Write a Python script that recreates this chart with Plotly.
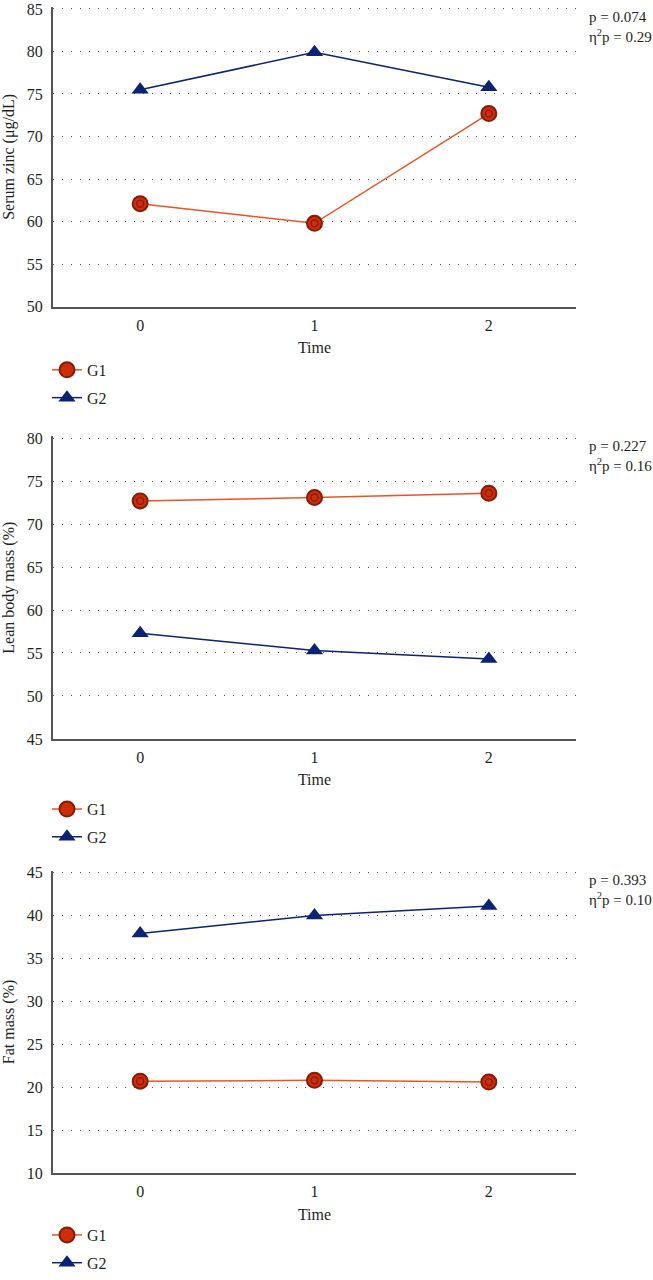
import plotly.graph_objects as go

time_labels = ["0", "1", "2"]
time_pos = [0, 1, 2]

zinc_g1 = [62.1, 59.8, 72.7]
zinc_g2 = [75.5, 79.9, 75.8]
lean_g1 = [72.7, 73.1, 73.6]
lean_g2 = [57.3, 55.3, 54.3]
fat_g1 = [20.7, 20.8, 20.6]
fat_g2 = [37.9, 40.0, 41.1]

panel_titles = ["Serum zinc (μg/dL)", "Lean body mass (%)", "Fat mass (%)"]
panel_ranges = [[50, 85], [45, 80], [10, 45]]
p_texts = ["p = 0.074", "p = 0.227", "p = 0.393"]
eta_texts = ["η<sup>2</sup>p = 0.29", "η<sup>2</sup>p = 0.16", "η<sup>2</sup>p = 0.10"]

W, H = 653, 1280
FONT = "Liberation Serif"
TXT = "#231F20"
G1_LINE = "#EA5424"
G1_FILL = "#CC2E0A"
G1_EDGE = "#861A05"
G2_COL = "#0C2272"
AXIS_COL = "#555555"

# pixel layout of each panel: (top gridline, bottom axis)
panel_px = [(9, 309.3), (442, 745.3), (880, 1183.3)]
x_px = (53, 576)
legend_px = [356, 799, 1229]
PAD = 0.2  # small headroom so the top gridline is drawn

def py(p):
    return 1 - p / H

fig = go.Figure()
data = [(zinc_g1, zinc_g2), (lean_g1, lean_g2), (fat_g1, fat_g2)]
for i, (g1, g2) in enumerate(data):
    sfx = "" if i == 0 else str(i + 1)
    leg = "legend" + sfx
    fig.add_trace(go.Scatter(
        x=time_pos, y=g1, name="G1", mode="lines+markers",
        line=dict(color=G1_LINE, width=1.5),
        marker=dict(symbol="circle", size=15, color=G1_FILL, line=dict(color=G1_EDGE, width=2)),
        xaxis="x" + sfx, yaxis="y" + sfx, legend=leg, legendgroup="g1" + sfx,
    ))
    fig.add_trace(go.Scatter(
        x=time_pos, y=g1, mode="markers", showlegend=False, hoverinfo="skip",
        marker=dict(symbol="circle-open", size=7, color=G1_EDGE, line=dict(width=1.3)),
        xaxis="x" + sfx, yaxis="y" + sfx,
    ))
    fig.add_trace(go.Scatter(
        x=time_pos, y=g2, name="G2", mode="lines+markers",
        line=dict(color=G2_COL, width=1.5),
        marker=dict(symbol="triangle-up", size=15, color=G2_COL),
        xaxis="x" + sfx, yaxis="y" + sfx, legend=leg, legendgroup="g2" + sfx,
    ))

layout = dict(
    width=W, height=H,
    margin=dict(l=0, r=0, t=0, b=0),
    paper_bgcolor="white", plot_bgcolor="white",
    font=dict(family=FONT, size=16, color=TXT),
    annotations=[],
    showlegend=True,
)
for i in range(3):
    sfx = "" if i == 0 else str(i + 1)
    top, bot = panel_px[i]
    lo, hi = panel_ranges[i]
    pxu = (bot - top) / (hi - lo)
    top_ext = top - PAD * pxu
    layout["xaxis" + sfx] = dict(
        domain=[x_px[0] / W, x_px[1] / W], anchor="y" + sfx,
        range=[-0.5, 2.5], tickvals=time_pos, ticktext=time_labels,
        showgrid=False, zeroline=False, showline=True, linecolor=AXIS_COL, linewidth=2,
        ticks="", automargin=False, ticklabelstandoff=3,
        title=dict(text="Time", font=dict(family=FONT, size=16, color=TXT), standoff=9),
        tickfont=dict(family=FONT, size=16, color=TXT),
    )
    layout["yaxis" + sfx] = dict(
        domain=[py(bot), py(top_ext)], anchor="x" + sfx,
        range=[lo, hi + PAD], tickvals=list(range(lo, hi + 1, 5)),
        showgrid=True, gridcolor="#555555", griddash="1px,8px", gridwidth=1,
        zeroline=False, showline=True, linecolor=AXIS_COL, linewidth=2,
        ticks="", ticklabelstandoff=5, automargin=False, ticklabeloverflow="allow",
        title=dict(text=panel_titles[i], font=dict(family=FONT, size=16, color=TXT), standoff=10),
        tickfont=dict(family=FONT, size=16, color=TXT),
    )
    layout["legend" + sfx] = dict(
        x=47 / W, y=py(legend_px[i]), xanchor="left", yanchor="top",
        orientation="v", traceorder="grouped", tracegroupgap=4,
        font=dict(family=FONT, size=16, color=TXT), bgcolor="rgba(0,0,0,0)",
    )
    layout["annotations"].append(dict(
        x=587 / W, y=py(top + 8), xref="paper", yref="paper",
        text=p_texts[i], showarrow=False, xanchor="left", yanchor="middle",
        font=dict(family=FONT, size=15, color=TXT),
    ))
    layout["annotations"].append(dict(
        x=587 / W, y=py(top + 27), xref="paper", yref="paper",
        text=eta_texts[i], showarrow=False, xanchor="left", yanchor="middle",
        font=dict(family=FONT, size=15, color=TXT),
    ))

fig.update_layout(**layout)
fig.write_html("out.html")
